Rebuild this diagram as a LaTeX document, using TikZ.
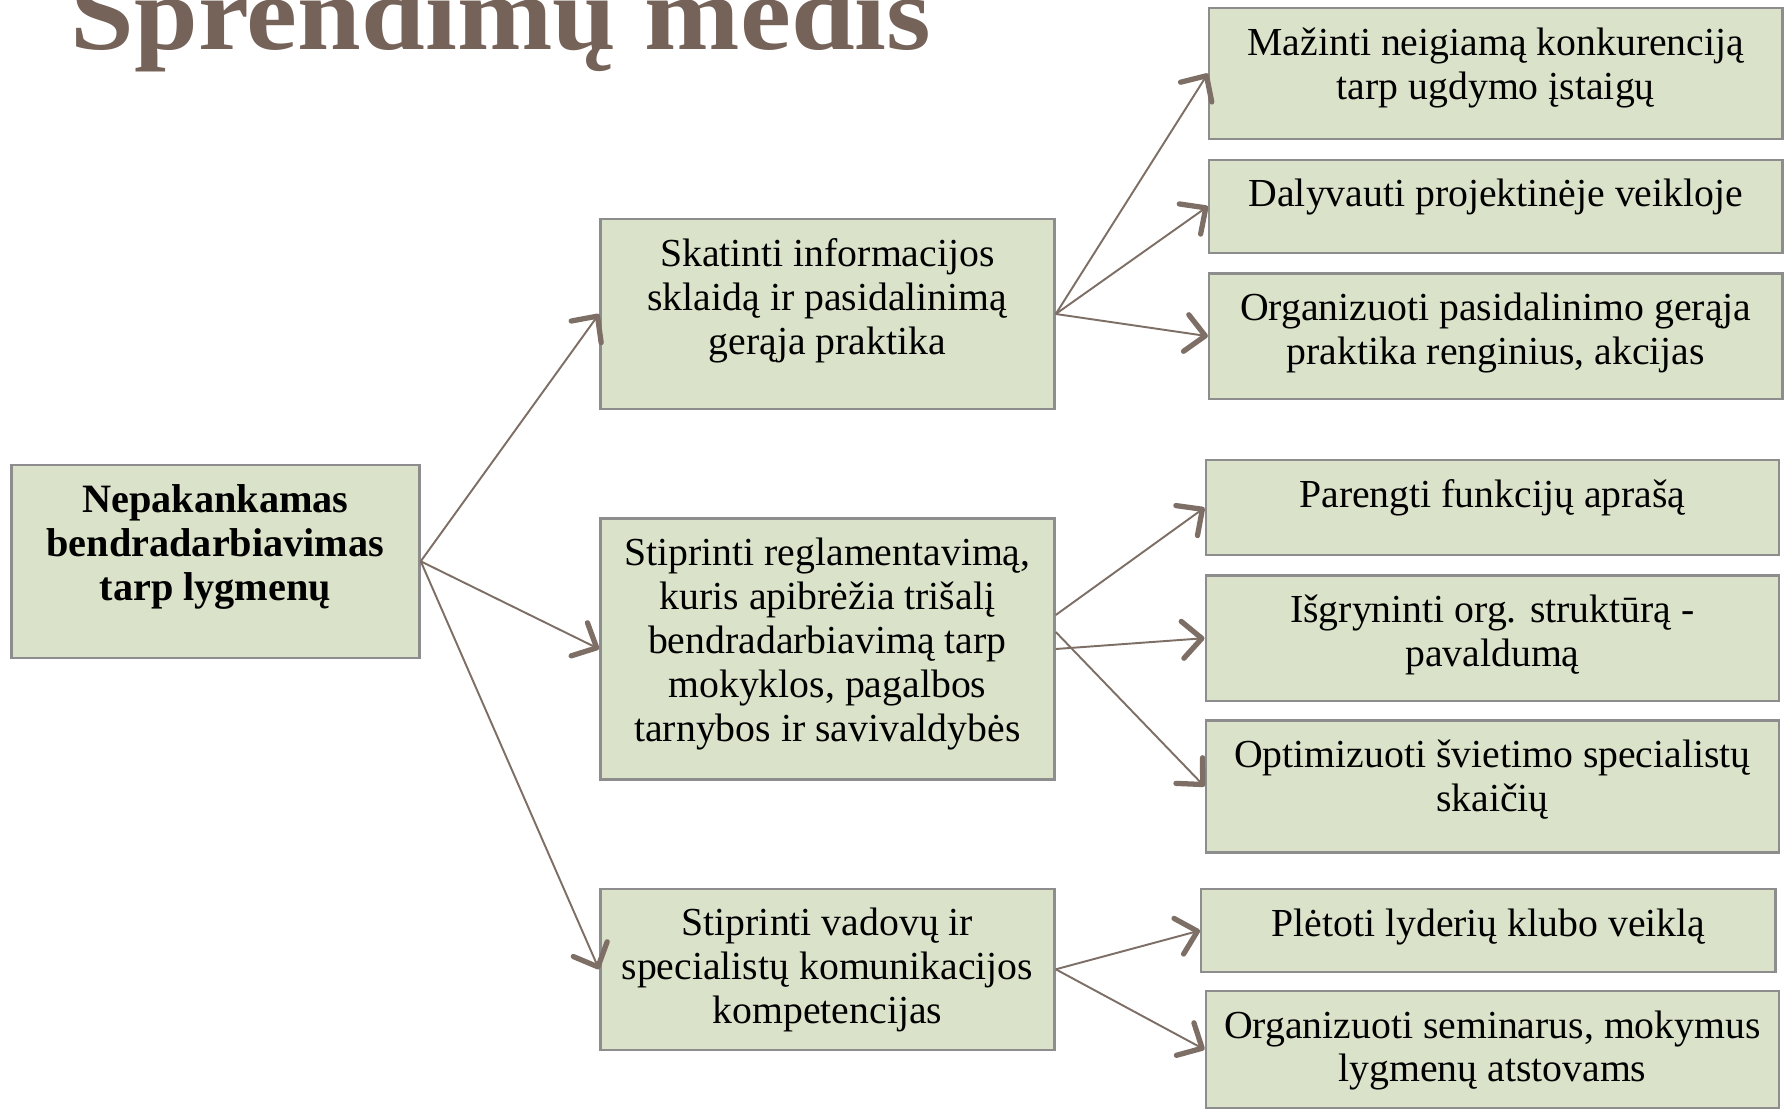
\documentclass[tikz,border=0pt]{standalone}
\usepackage{fontspec}
\setmainfont{Liberation Serif}
\usetikzlibrary{arrows.meta}

\definecolor{boxfill}{RGB}{219,226,202}
\definecolor{boxline}{RGB}{141,141,141}
\definecolor{arrowcol}{RGB}{126,111,102}
\definecolor{titlecol}{RGB}{117,98,88}

\begin{document}
\begin{tikzpicture}[x=0.01cm, y=-0.01cm,
		box/.style={draw=boxline, fill=boxfill, line width=0.7pt, inner sep=0pt, rectangle},
		txt/.style={align=center, inner sep=0pt, anchor=north, font=\fontsize{11.3}{12.5}\selectfont},
		arr/.style={draw=arrowcol, line width=0.55pt, -{Straight Barb[length=5.5pt, width=10.5pt, line width=1.5pt, round]}}]

		\useasboundingbox (0, 0) rectangle (1787, 1109);

		% title
		\node[anchor=base west, inner sep=0pt, text=titlecol, font=\fontsize{30}{30}\selectfont\bfseries] (title) at (70, 50) {\scalebox{1.086}[1]{Sprendimų medis}};

		% boxes
		\node[box, minimum width=4.08cm, minimum height=1.93cm] (root) at (215.4, 561.3) {};
		\node[box, minimum width=4.54cm, minimum height=1.90cm] (mid1) at (827.4, 314) {};
		\node[box, minimum width=4.54cm, minimum height=2.61cm] (mid2) at (827.4, 649) {};
		\node[box, minimum width=4.54cm, minimum height=1.61cm] (mid3) at (827.4, 969.3) {};

		\node[box, minimum width=5.73cm, minimum height=1.31cm] (leaf1) at (1495.8, 73.5) {};
		\node[box, minimum width=5.73cm, minimum height=0.93cm] (leaf2) at (1495.8, 206.3) {};
		\node[box, minimum width=5.73cm, minimum height=1.25cm] (leaf3) at (1495.8, 336.2) {};
		\node[box, minimum width=5.73cm, minimum height=0.95cm] (leaf4) at (1492.4, 507.7) {};
		\node[box, minimum width=5.73cm, minimum height=1.25cm] (leaf5) at (1492.4, 638.2) {};
		\node[box, minimum width=5.73cm, minimum height=1.32cm] (leaf6) at (1492.4, 786.4) {};
		\node[box, minimum width=5.74cm, minimum height=0.83cm] (leaf7) at (1488.4, 930.5) {};
		\node[box, minimum width=5.73cm, minimum height=1.17cm] (leaf8) at (1492.4, 1049.5) {};

		% texts
		\node[txt, font=\fontsize{11.45}{12.5}\selectfont\bfseries] (roottxt) at ([yshift=-0.2cm]root.north) {Nepakankamas\\ bendradarbiavimas\\ tarp lygmenų};
		\node[txt] (mid1txt) at ([yshift=-0.2cm]mid1.north) {Skatinti informacijos\\ sklaidą ir pasidalinimą\\ gerąja praktika};
		\node[txt] (mid2txt) at ([yshift=-0.2cm]mid2.north) {Stiprinti reglamentavimą,\\ kuris apibrėžia trišalį\\ bendradarbiavimą tarp\\ mokyklos, pagalbos\\ tarnybos ir savivaldybės};
		\node[txt] (mid3txt) at ([yshift=-0.2cm]mid3.north) {Stiprinti vadovų ir\\ specialistų komunikacijos\\ kompetencijas};

		\node[txt] (leaf1txt) at ([yshift=-0.2cm]leaf1.north) {Mažinti neigiamą konkurenciją\\ tarp ugdymo įstaigų};
		\node[txt] (leaf2txt) at ([yshift=-0.2cm]leaf2.north) {Dalyvauti projektinėje veikloje};
		\node[txt] (leaf3txt) at ([yshift=-0.2cm]leaf3.north) {Organizuoti pasidalinimo gerąja\\ praktika renginius, akcijas};
		\node[txt] (leaf4txt) at ([yshift=-0.2cm]leaf4.north) {Parengti funkcijų aprašą};
		\node[txt] (leaf5txt) at ([yshift=-0.2cm]leaf5.north) {Išgryninti org. struktūrą -\\ pavaldumą};
		\node[txt] (leaf6txt) at ([yshift=-0.2cm]leaf6.north) {Optimizuoti švietimo specialistų\\ skaičių};
		\node[txt] (leaf7txt) at ([yshift=-0.2cm]leaf7.north) {Plėtoti lyderių klubo veiklą};
		\node[txt] (leaf8txt) at ([yshift=-0.2cm]leaf8.north) {Organizuoti seminarus, mokymus\\ lygmenų atstovams};

		% connectors
		\draw[arr] (root.east) -- (mid1.west);
		\draw[arr] (root.east) -- (mid2.west);
		\draw[arr] (root.east) -- (mid3.west);

		\draw[arr] (mid1.east) -- (leaf1.west);
		\draw[arr] (mid1.east) -- (leaf2.west);
		\draw[arr] (mid1.east) -- (leaf3.west);

		\draw[arr] ([yshift=0.34cm]mid2.east) -- (leaf4.west);
		\draw[arr] (mid2.east) -- (leaf5.west);
		\draw[arr] ([yshift=0.17cm]mid2.east) -- (leaf6.west);

		\draw[arr] (mid3.east) -- (leaf7.west);
		\draw[arr] (mid3.east) -- (leaf8.west);

\end{tikzpicture}
\end{document}
